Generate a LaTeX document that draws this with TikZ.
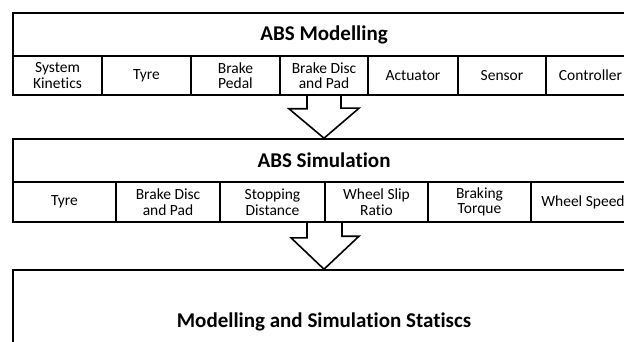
\documentclass[tikz,border=0pt]{standalone}
\usepackage{fontspec}
\setmainfont[Ligatures=NoCommon]{Carlito}
\begin{document}
\begin{tikzpicture}[x=1pt,y=-1pt,
  box/.style={draw, line width=1.6pt, inner sep=0pt, align=center},
  title/.style={box, font=\fontsize{21}{24}\selectfont\bfseries},
  cell/.style={box, font=\fontsize{15.5}{15.6}\selectfont},
  blockarrow/.style={draw, line width=1.6pt, line join=miter}]
\path[use as bounding box, clip] (0,0) rectangle (624,342);
\fill[white] (0,0) rectangle (624,342);
% ---- ABS Modelling
\node[title, minimum width=622pt, minimum height=43pt] (m) at (324,34.5) {ABS Modelling};
\node[cell, minimum width=89pt, minimum height=39pt] (m1) at (57.5,75.5) {System\\Kinetics};
\node[cell, minimum width=89pt, minimum height=39pt] (m2) at (146.5,75.5) {Tyre};
\node[cell, minimum width=89pt, minimum height=39pt] (m3) at (235.5,75.5) {Brake\\Pedal};
\node[cell, minimum width=88pt, minimum height=39pt] (m4) at (324,75.5) {Brake Disc\\and Pad};
\node[cell, minimum width=90pt, minimum height=39pt] (m5) at (413,75.5) {Actuator};
\node[cell, minimum width=88pt, minimum height=39pt] (m6) at (502,75.5) {Sensor};
\node[cell, minimum width=89pt, minimum height=39pt] (m7) at (590.5,75.5) {Controller};
% ---- ABS Simulation
\node[title, minimum width=622pt, minimum height=43pt] (s) at (324,160.5) {ABS Simulation};
\node[cell, minimum width=103pt, minimum height=40pt] (s1) at (64.5,202) {Tyre};
\node[cell, minimum width=104pt, minimum height=40pt] (s2) at (168,202) {Brake Disc\\and Pad};
\node[cell, minimum width=105pt, minimum height=40pt] (s3) at (272.5,202) {Stopping\\Distance};
\node[cell, minimum width=103pt, minimum height=40pt] (s4) at (376.5,202) {Wheel Slip\\Ratio};
\node[cell, minimum width=103pt, minimum height=40pt] (s5) at (479.5,202) {Braking\\Torque};
\node[cell, minimum width=104pt, minimum height=40pt] (s6) at (583,202) {Wheel Speed};
% ---- Statistics
\node[title, minimum width=622pt, minimum height=104pt] (st) at (324,322) {Modelling and Simulation Statiscs};
% ---- block arrows
\draw[blockarrow] (m4.south) ++(-17,0) -- ++(0,13) -- ++(-18,0) -- (s.north) -- ++(35,-30) -- ++(-18,0) -- ++(0,-13);
\draw[blockarrow] (s3.south -| s.south) ++(-17,0) -- ++(0,15) -- ++(-16,0) -- (st.north) -- ++(35,-33) -- ++(-17,0) -- ++(0,-15);
\end{tikzpicture}
\end{document}
